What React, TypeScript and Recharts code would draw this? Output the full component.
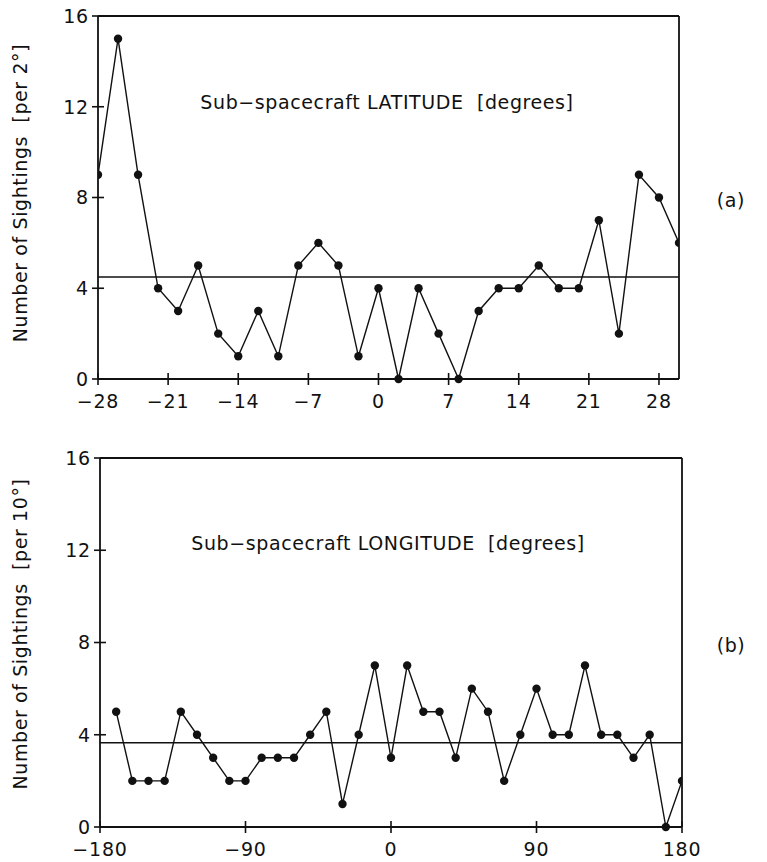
import React from "react";
import { LineChart, Line, XAxis, YAxis, ReferenceLine } from "recharts";

// sub-spacecraft latitude, per 2 degree bin
const latBins = [-28, -26, -24, -22, -20, -18, -16, -14, -12, -10, -8, -6, -4, -2, 0, 2, 4, 6, 8, 10, 12, 14, 16, 18, 20, 22, 24, 26, 28, 30];
const latCounts = [9, 15, 9, 4, 3, 5, 2, 1, 3, 1, 5, 6, 5, 1, 4, 0, 4, 2, 0, 3, 4, 4, 5, 4, 4, 7, 2, 9, 8, 6];
const latTicks = [-28, -21, -14, -7, 0, 7, 14, 21, 28];
const latMean = 4.5;

// sub-spacecraft longitude, per 10 degree bin
const lonBins = [-170, -160, -150, -140, -130, -120, -110, -100, -90, -80, -70, -60, -50, -40, -30, -20, -10, 0, 10, 20, 30, 40, 50, 60, 70, 80, 90, 100, 110, 120, 130, 140, 150, 160, 170, 180];
const lonCounts = [5, 2, 2, 2, 5, 4, 3, 2, 2, 3, 3, 3, 4, 5, 1, 4, 7, 3, 7, 5, 5, 3, 6, 5, 2, 4, 6, 4, 4, 7, 4, 4, 3, 4, 0, 2];
const lonTicks = [-180, -90, 0, 90, 180];
const lonMean = 3.65;

const yTicks = [0, 4, 8, 12, 16];
const rightTicks = [4, 8, 12];

const FONT = "DejaVu Sans";
const INK = "#111";

const latData = latBins.map((x, i) => ({ x, n: latCounts[i] }));
const lonData = lonBins.map((x, i) => ({ x, n: lonCounts[i] }));

const fmt = (v: number) => (v < 0 ? "\u2212" + Math.abs(v) : String(v));

const LeftTick = (props: any) => {
  const { x, y, payload } = props;
  return (
    <g>
      <line x1={x - 6} x2={x + 6} y1={y} y2={y} stroke={INK} strokeWidth={1.6} />
      <text x={x - 9} y={y} dy="0.36em" textAnchor="end" fontSize={19} letterSpacing={0.8} fontFamily={FONT} fill={INK}>
        {payload.value}
      </text>
    </g>
  );
};

const RightTick = (props: any) => {
  const { x, y } = props;
  return <line x1={x - 6} x2={x + 6} y1={y} y2={y} stroke={INK} strokeWidth={1.6} />;
};

const BottomTick = (props: any) => {
  const { x, y, payload } = props;
  return (
    <g>
      <line x1={x} x2={x} y1={y - 6} y2={y + 6} stroke={INK} strokeWidth={1.6} />
      <text x={x} y={y + 22} dy="0.36em" textAnchor="middle" fontSize={19} letterSpacing={0.8} fontFamily={FONT} fill={INK}>
        {fmt(payload.value)}
      </text>
    </g>
  );
};

const abs = (left: number, top: number, extra: React.CSSProperties = {}): React.CSSProperties => ({
  position: "absolute",
  left,
  top,
  transform: "translate(-50%, -50%)",
  whiteSpace: "nowrap",
  fontFamily: FONT,
  fontSize: 19,
  letterSpacing: 0.6,
  color: INK,
  ...extra,
});

function Panel(props: {
  data: Array<{ x: number; n: number }>;
  domain: [number, number];
  ticks: number[];
  mean: number;
  width: number;
  height: number;
  margin: { top: number; right: number; left: number; bottom: number };
  yWidth: number;
  xHeight: number;
}) {
  const { data, domain, ticks, mean, width, height, margin, yWidth, xHeight } = props;
  return (
    <LineChart width={width} height={height} data={data} margin={margin}>
      <XAxis
        type="number"
        dataKey="x"
        domain={domain}
        ticks={ticks}
        allowDataOverflow
        height={xHeight}
        tickSize={0}
        tickMargin={0}
        tick={<BottomTick />}
        tickLine={false}
        axisLine={{ stroke: INK, strokeWidth: 1.8 }}
        interval={0}
      />
      <YAxis
        yAxisId="l"
        domain={[0, 16]}
        ticks={yTicks}
        width={yWidth}
        tickSize={0}
        tickMargin={0}
        tick={<LeftTick />}
        tickLine={false}
        axisLine={{ stroke: INK, strokeWidth: 1.8 }}
        interval={0}
      />
      <YAxis
        yAxisId="r"
        orientation="right"
        domain={[0, 16]}
        ticks={rightTicks}
        width={1}
        tickSize={0}
        tickMargin={0}
        tick={<RightTick />}
        tickLine={false}
        axisLine={{ stroke: INK, strokeWidth: 1.8 }}
        interval={0}
      />
      <ReferenceLine yAxisId="l" y={16} stroke={INK} strokeWidth={1.8} />
      <ReferenceLine yAxisId="l" y={mean} stroke={INK} strokeWidth={1.5} />
      <Line
        yAxisId="l"
        type="linear"
        dataKey="n"
        stroke={INK}
        strokeWidth={1.4}
        dot={{ r: 4.2, fill: INK, stroke: INK, strokeWidth: 0 }}
        activeDot={false}
        isAnimationActive={false}
      />
    </LineChart>
  );
}

export default function App() {
  return (
    <div style={{ position: "absolute", left: 0, top: 0, width: 767, height: 862, background: "#fff" }}>
      <div style={{ position: "absolute", left: 0, top: 0 }}>
        <Panel
          data={latData}
          domain={[-28, 30]}
          ticks={latTicks}
          mean={latMean}
          width={767}
          height={428}
          margin={{ top: 16, right: 87, left: 0, bottom: 0 }}
          yWidth={98}
          xHeight={49}
        />
      </div>
      <div style={{ position: "absolute", left: 0, top: 430 }}>
        <Panel
          data={lonData}
          domain={[-180, 180]}
          ticks={lonTicks}
          mean={lonMean}
          width={767}
          height={432}
          margin={{ top: 28, right: 84, left: 0, bottom: 0 }}
          yWidth={100}
          xHeight={35}
        />
      </div>
      <div style={abs(387, 102)}>Sub&#8722;spacecraft LATITUDE&nbsp;&nbsp;[degrees]</div>
      <div style={abs(388, 543)}>Sub&#8722;spacecraft LONGITUDE&nbsp;&nbsp;[degrees]</div>
      <div style={abs(20, 193, { transform: "translate(-50%, -50%) rotate(-90deg)" })}>
        Number of Sightings&nbsp;&nbsp;[per 2°]
      </div>
      <div style={abs(20, 634, { transform: "translate(-50%, -50%) rotate(-90deg)" })}>
        Number of Sightings&nbsp;&nbsp;[per 10°]
      </div>
      <div style={abs(731, 200)}>(a)</div>
      <div style={abs(731, 645)}>(b)</div>
    </div>
  );
}
